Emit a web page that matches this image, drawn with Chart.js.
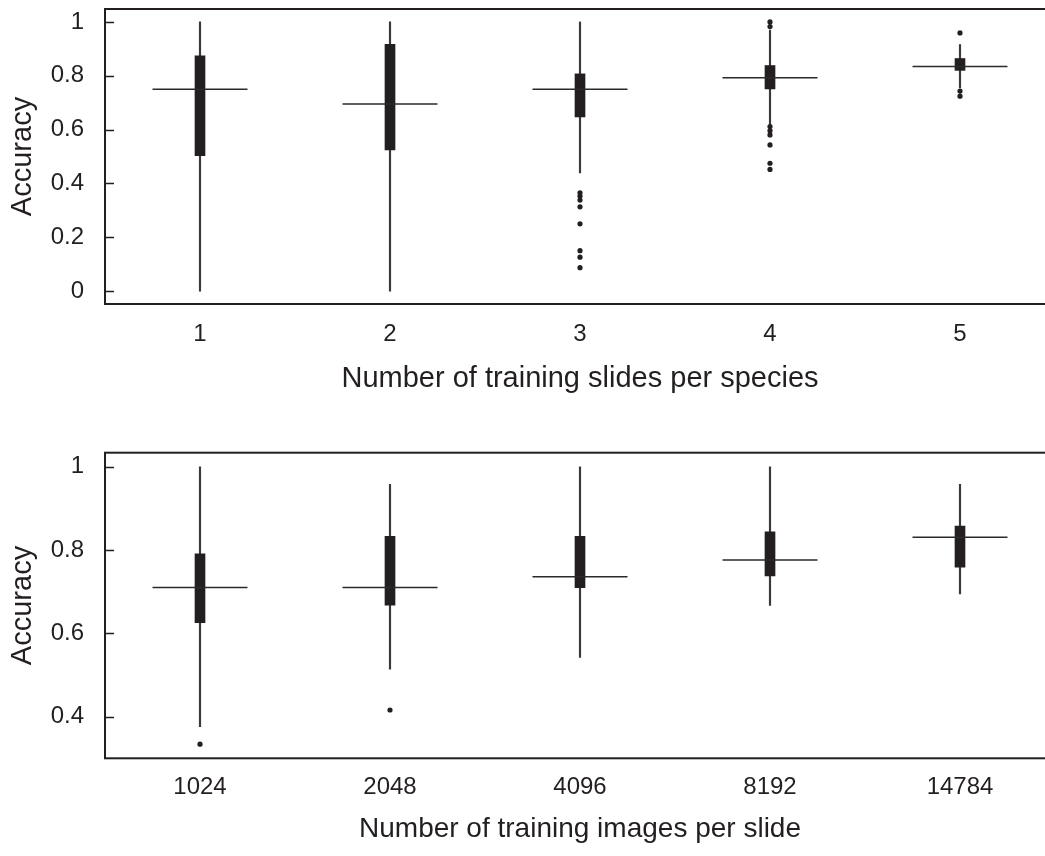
<!DOCTYPE html>
<html>
<head>
<meta charset="utf-8">
<script src="https://cdn.jsdelivr.net/npm/chart.js@4"></script>
<style>
  html, body { margin: 0; padding: 0; background: #fff; overflow: hidden; }
  #wrap { position: relative; width: 1045px; height: 856px; overflow: hidden; }
  canvas { position: absolute; left: 0; }
  #slidesChart { top: 0; }
  #imagesChart { top: 430px; }
</style>
</head>
<body>
<div id="wrap">
  <canvas id="slidesChart" width="1060" height="430"></canvas>
  <canvas id="imagesChart" width="1060" height="426"></canvas>
</div>
<script>
// top panel: training slides per species
const slideLabels = ['1', '2', '3', '4', '5'];
const slideLow = [0, 0, 0.439, 0.613, 0.755];
const slideQ1 = [0.503, 0.524, 0.647, 0.751, 0.82];
const slideMedian = [0.75, 0.695, 0.75, 0.793, 0.834];
const slideQ3 = [0.874, 0.917, 0.807, 0.838, 0.864];
const slideHigh = [1, 1, 1, 0.97, 0.916];
const slideOutliers = [
    ['3', 0.365], ['3', 0.353], ['3', 0.338], ['3', 0.313], ['3', 0.25],
    ['3', 0.15], ['3', 0.126], ['3', 0.087],
    ['4', 1.0], ['4', 0.983], ['4', 0.611], ['4', 0.596], ['4', 0.58],
    ['4', 0.543], ['4', 0.475], ['4', 0.452],
    ['5', 0.959], ['5', 0.743], ['5', 0.724]
];
const slideTicks = [0, 0.2, 0.4, 0.6, 0.8, 1];

// bottom panel: training images per slide
const imageLabels = ['1024', '2048', '4096', '8192', '14784'];
const imageLow = [0.376, 0.514, 0.542, 0.667, 0.695];
const imageQ1 = [0.626, 0.668, 0.71, 0.738, 0.759];
const imageMedian = [0.71, 0.71, 0.736, 0.776, 0.831];
const imageQ3 = [0.791, 0.833, 0.833, 0.844, 0.858];
const imageHigh = [1, 0.958, 1, 1, 0.958];
const imageOutliers = [['1024', 0.334], ['2048', 0.416]];
const imageTicks = [0.4, 0.6, 0.8, 1];

const ink = '#231f20';
const fontFamily = "'Liberation Sans', Arial, Helvetica, sans-serif";

// box frame plus the short inward tick marks on the y axis
const framePlugin = {
    id: 'frame',
    afterDraw(chart) {
        const ctx = chart.ctx;
        const a = chart.chartArea;
        const y = chart.scales.y;
        ctx.save();
        ctx.strokeStyle = ink;
        ctx.lineWidth = 2;
        ctx.strokeRect(a.left, a.top, a.right - a.left, a.bottom - a.top);
        ctx.lineWidth = 1.5;
        ctx.beginPath();
        y.ticks.forEach(function(t, i) {
            const py = Math.round(y.getPixelForTick(i)) + 0.5;
            ctx.moveTo(a.left, py);
            ctx.lineTo(a.left + 9, py);
        });
        ctx.stroke();
        ctx.restore();
    }
};

function createBoxChart(id, s) {
    const ctx = document.getElementById(id).getContext('2d');

    new Chart(ctx, {
        type: 'bar',
        data: {
            labels: s.labels,
            datasets: [
                {
                    label: 'whisker',
                    data: s.low.map((v, i) => [v, s.high[i]]),
                    backgroundColor: '#3a3a3a',
                    barThickness: 1.5,
                    grouped: false,
                    order: 4
                },
                {
                    label: 'box',
                    data: s.q1.map((v, i) => [v, s.q3[i]]),
                    backgroundColor: ink,
                    barThickness: 10,
                    grouped: false,
                    order: 3
                },
                {
                    type: 'line',
                    label: 'outliers',
                    data: s.outliers.map(o => ({x: o[0], y: o[1]})),
                    showLine: false,
                    pointStyle: 'circle',
                    pointRadius: 2.6,
                    pointBorderWidth: 0,
                    pointBackgroundColor: ink,
                    order: 2
                },
                {
                    type: 'line',
                    label: 'median',
                    data: s.median,
                    showLine: false,
                    pointStyle: 'line',
                    pointRadius: 47.5,
                    pointBorderWidth: 1.5,
                    pointBorderColor: '#2a2a2a',
                    order: 1
                }
            ]
        },
        options: {
            responsive: false,
            animation: false,
            layout: {
                autoPadding: false,
                padding: {top: s.padTop, right: 5, left: 0, bottom: 0}
            },
            scales: {
                x: {
                    grid: {display: false},
                    border: {display: false},
                    ticks: {
                        color: ink,
                        padding: s.xTickPad,
                        font: {family: fontFamily, size: 24}
                    },
                    title: {
                        display: true,
                        text: s.xTitle,
                        color: ink,
                        font: {family: fontFamily, size: s.titleSize},
                        padding: {top: 0, bottom: s.titlePadBottom}
                    },
                    afterFit: function(scale) {
                        scale.height = s.xHeight;
                        scale.paddingLeft = 0;
                        scale.paddingRight = 0;
                    }
                },
                y: {
                    min: s.yMin,
                    max: s.yMax,
                    grid: {display: false},
                    border: {display: false},
                    afterBuildTicks: function(scale) {
                        scale.ticks = s.ticks.map(v => ({value: v}));
                    },
                    ticks: {
                        color: ink,
                        padding: 13,
                        font: {family: fontFamily, size: 24},
                        callback: function(value) {
                            return String(+value.toFixed(1));
                        }
                    },
                    title: {
                        display: true,
                        text: 'Accuracy',
                        color: ink,
                        font: {family: fontFamily, size: 29},
                        padding: {top: 6, bottom: 0}
                    },
                    afterFit: function(scale) {
                        scale.width = 105;
                        scale.paddingTop = 0;
                        scale.paddingBottom = 0;
                    }
                }
            },
            plugins: {
                legend: {display: false},
                tooltip: {enabled: false}
            }
        },
        plugins: [framePlugin]
    });
}

createBoxChart('slidesChart', {
    labels: slideLabels,
    low: slideLow,
    q1: slideQ1,
    median: slideMedian,
    q3: slideQ3,
    high: slideHigh,
    outliers: slideOutliers,
    ticks: slideTicks,
    yMin: -0.048,
    yMax: 1.048,
    padTop: 9,
    xHeight: 126,
    xTickPad: 8,
    xTitle: 'Number of training slides per species',
    titleSize: 29,
    titlePadBottom: 33.6
});

createBoxChart('imagesChart', {
    labels: imageLabels,
    low: imageLow,
    q1: imageQ1,
    median: imageMedian,
    q3: imageQ3,
    high: imageHigh,
    outliers: imageOutliers,
    ticks: imageTicks,
    yMin: 0.3,
    yMax: 1.034,
    padTop: 22.7,
    xHeight: 97.7,
    xTickPad: 7,
    xTitle: 'Number of training images per slide',
    titleSize: 28,
    titlePadBottom: 10.2
});
</script>
</body>
</html>
